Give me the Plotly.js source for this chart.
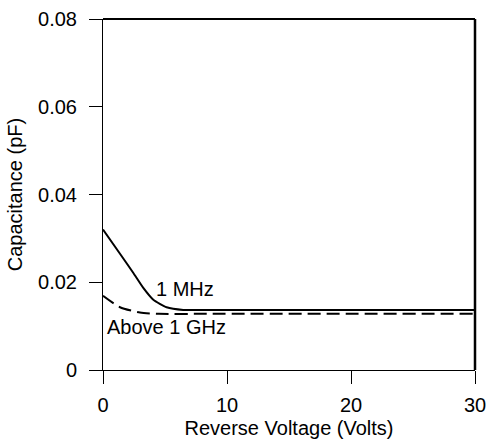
<!DOCTYPE html>
<html><head><meta charset="utf-8">
<script src="https://cdn.plot.ly/plotly-3.0.1.min.js"></script>
<style>html,body{margin:0;padding:0;background:#fff}#c{width:488px;height:443px}</style>
</head><body><div id="c"></div>
<script>
const vMHz = [0, 1.37, 2.45, 3.25, 4.06, 5.13, 6.47, 8, 12, 30];
const cMHz = [0.032, 0.0265, 0.0221, 0.0187, 0.0160, 0.0143, 0.0137, 0.0137, 0.0137, 0.0137];
const vGHz = [0, 1.37, 2.98, 4.5, 8, 30];
const cGHz = [0.0169, 0.0143, 0.0131, 0.0128, 0.0128, 0.0128];
const xTicks = [0, 10, 20, 30];
const yTicks = [0, 0.02, 0.04, 0.06, 0.08];
const yTickText = ['0', '0.02', '0.04', '0.06', '0.08'];
const labelMHz = '1 MHz';
const labelGHz = 'Above 1 GHz';

const font = {family: 'Liberation Sans, Arial, sans-serif', size: 20, color: '#000'};
const traces = [
  {x: vMHz, y: cMHz, mode: 'lines', line: {color: '#000', width: 2, shape: 'spline', smoothing: 0.5}, hoverinfo: 'skip'},
  {x: vGHz, y: cGHz, mode: 'lines', line: {color: '#000', width: 2, dash: '13px,6px', shape: 'spline', smoothing: 0.6}, hoverinfo: 'skip'}
];
const layout = {
  width: 488, height: 443,
  margin: {l: 103, r: 13, t: 19, b: 73},
  paper_bgcolor: '#fff', plot_bgcolor: '#fff',
  showlegend: false,
  font: font,
  xaxis: {
    range: [0, 30], tickvals: xTicks, ticktext: xTicks.map(String),
    showgrid: false, zeroline: false, showline: true, linecolor: '#000', linewidth: 1,
    ticks: 'outside', ticklen: 13, tickcolor: '#000', tickwidth: 1, ticklabelstandoff: 4,
    title: {text: 'Reverse Voltage (Volts)', font: font, standoff: 5}
  },
  yaxis: {
    range: [0, 0.08], tickvals: yTicks, ticktext: yTickText,
    showgrid: false, zeroline: false, showline: true, linecolor: '#000', linewidth: 1,
    ticks: 'outside', ticklen: 13, tickcolor: '#000', tickwidth: 1, ticklabelstandoff: 8,
    title: {text: 'Capacitance (pF)', font: font, standoff: 10}
  },
  shapes: [
    {type: 'line', xref: 'paper', yref: 'paper', x0: 0, x1: 1, y0: 1, y1: 1, line: {color: '#000', width: 2}},
    {type: 'line', xref: 'paper', yref: 'paper', x0: 1, x1: 1, y0: 0, y1: 1, line: {color: '#000', width: 2.5}}
  ],
  annotations: [
    {x: 4.15, y: 0.0184, xref: 'x', yref: 'y', text: labelMHz, showarrow: false, xanchor: 'left', yanchor: 'middle', font: font},
    {x: 0.15, y: 0.0098, xref: 'x', yref: 'y', text: labelGHz, showarrow: false, xanchor: 'left', yanchor: 'middle', font: font}
  ]
};
Plotly.newPlot('c', traces, layout, {displayModeBar: false, staticPlot: true});
</script></body></html>
